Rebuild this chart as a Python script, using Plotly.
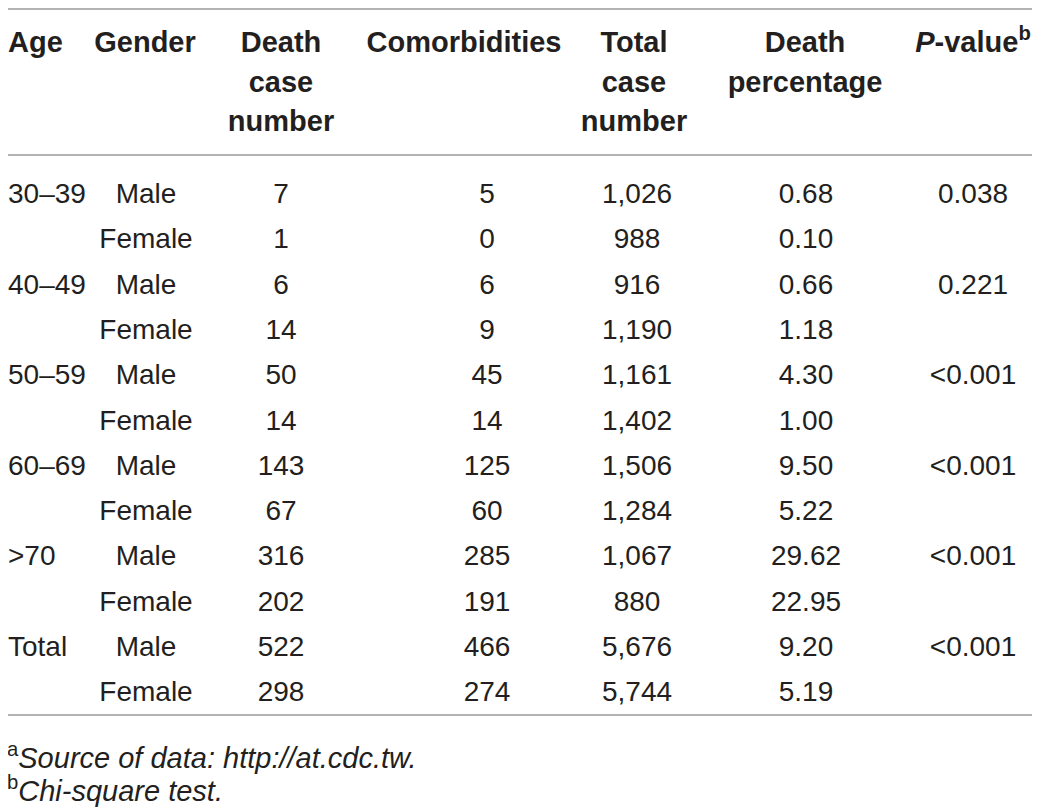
import plotly.graph_objects as go

# table data
age_groups = ["30–39", "40–49", "50–59", "60–69", ">70", "Total"]
genders = ["Male", "Female"]
death_cases = [7, 1, 6, 14, 50, 14, 143, 67, 316, 202, 522, 298]
comorbidities = [5, 0, 6, 9, 45, 14, 125, 60, 285, 191, 466, 274]
total_cases = [1026, 988, 916, 1190, 1161, 1402, 1506, 1284, 1067, 880, 5676, 5744]
death_pct = [0.68, 0.10, 0.66, 1.18, 4.30, 1.00, 9.50, 5.22, 29.62, 22.95, 9.20, 5.19]
p_values = ["0.038", "0.221", "<0.001", "<0.001", "<0.001", "<0.001"]

headers = [
    ["Age"],
    ["Gender"],
    ["Death", "case", "number"],
    ["Comorbidities"],
    ["Total", "case", "number"],
    ["Death", "percentage"],
    ["<i>P</i>-value<sup>b</sup>"],
]
footnotes = [
    "<sup>a</sup><i>Source of data: http://at.cdc.tw.</i>",
    "<sup>b</sup><i>Chi-square test.</i>",
]

# layout in page pixels (the figure itself sits 8px in from the page corner)
W, H = 1040, 812
OFF = 8
INK = "#231f20"
RULE = "#9a9a9a"
FONT = "Liberation Sans"
FS_BODY, FS_HEAD, FS_NOTE = 28, 29, 29
head_x = [OFF, 145, 281, 464, 634, 805, 973]
col_x = [OFF, 146, 281, 487, 637, 806, 973]
head_y0, head_step = 45, 39.5
row_y0, row_step = 196, 45.3

fig = go.Figure()

# header
hx, hy, ht, hpos = [], [], [], []
for c, lines in enumerate(headers):
    for k, s in enumerate(lines):
        hx.append(head_x[c])
        hy.append(head_y0 + k * head_step)
        ht.append("<b>" + s + "</b>")
        hpos.append("middle right" if c == 0 else "middle center")
fig.add_trace(go.Scatter(x=hx, y=hy, text=ht, mode="text", textposition=hpos,
                         textfont=dict(family=FONT, size=FS_HEAD, color=INK),
                         cliponaxis=False, hoverinfo="skip", showlegend=False))

# body
bx, by, bt, bpos = [], [], [], []
for i in range(len(death_cases)):
    y = row_y0 + i * row_step
    cells = [
        age_groups[i // 2] if i % 2 == 0 else "",
        genders[i % 2],
        str(death_cases[i]),
        str(comorbidities[i]),
        f"{total_cases[i]:,}",
        f"{death_pct[i]:.2f}",
        p_values[i // 2] if i % 2 == 0 else "",
    ]
    for c, s in enumerate(cells):
        if not s:
            continue
        bx.append(col_x[c])
        by.append(y)
        bt.append(s)
        bpos.append("middle right" if c == 0 else "middle center")
fig.add_trace(go.Scatter(x=bx, y=by, text=bt, mode="text", textposition=bpos,
                         textfont=dict(family=FONT, size=FS_BODY, color=INK),
                         cliponaxis=False, hoverinfo="skip", showlegend=False))

# rules
for y in [OFF + 1, 155, 715]:
    fig.add_shape(type="line", x0=OFF, x1=1035, y0=y, y1=y, xref="x", yref="y",
                  line=dict(color=RULE, width=1.5))

# footnotes
for k, s in enumerate(footnotes):
    fig.add_annotation(x=OFF, y=756 + k * 33, xref="x", yref="y", text=s,
                       showarrow=False, xanchor="left", yanchor="middle",
                       xshift=-3,
                       font=dict(family=FONT, size=FS_NOTE, color=INK))

fig.update_xaxes(range=[OFF, W + OFF], visible=False, fixedrange=True)
fig.update_yaxes(range=[H + OFF, OFF], visible=False, fixedrange=True)
fig.update_layout(width=W, height=H, margin=dict(l=0, r=0, t=0, b=0),
                  paper_bgcolor="white", plot_bgcolor="white")

fig.write_html("out.html")
